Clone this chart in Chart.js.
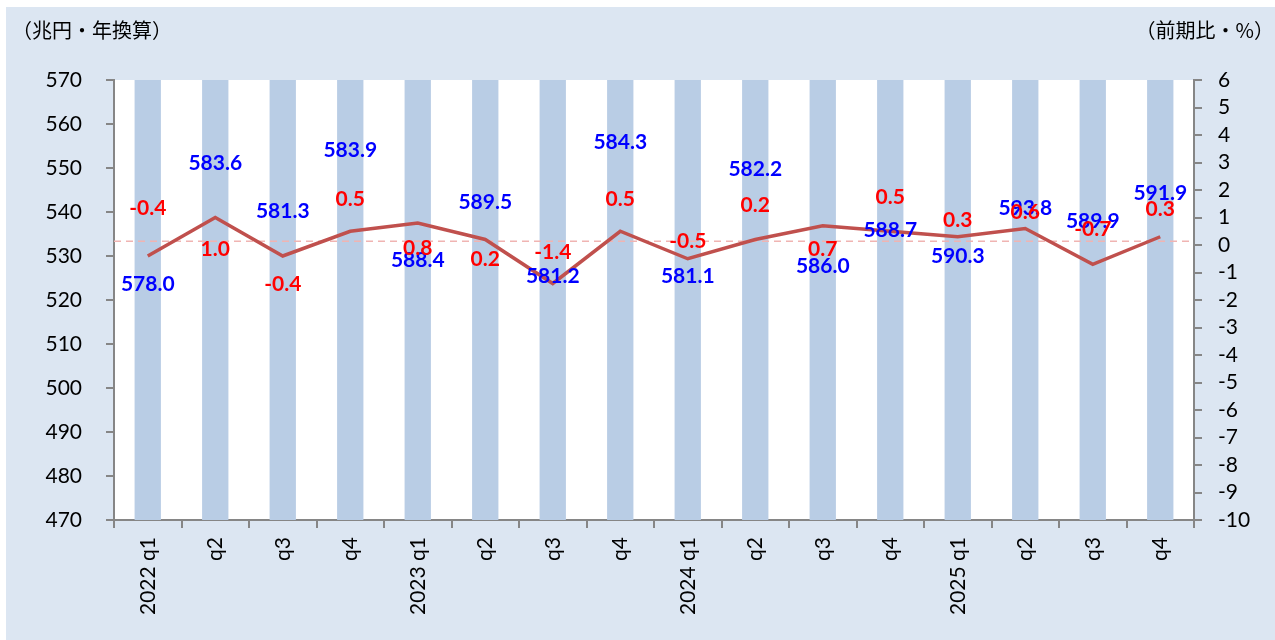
<!DOCTYPE html>
<html>
<head>
<meta charset="utf-8">
<script src="https://cdn.jsdelivr.net/npm/chart.js@4"></script>
<style>
  html, body { margin: 0; padding: 0; background: #ffffff; }
  #wrap { position: absolute; left: 6px; top: 7px; width: 1269px; height: 633px; background: #dce6f2; }
</style>
</head>
<body>
<div id="wrap"><canvas id="chart" width="1269" height="633"></canvas></div>
<script>
// quarters on the x axis
const quarters = ['2022 q1', 'q2', 'q3', 'q4', '2023 q1', 'q2', 'q3', 'q4',
                  '2024 q1', 'q2', 'q3', 'q4', '2025 q1', 'q2', 'q3', 'q4'];
// real GDP, trillion yen annualised (bars, left axis)
const gdpLevel = [578.0, 583.6, 581.3, 583.9, 588.4, 589.5, 581.2, 584.3,
                  581.1, 582.2, 586.0, 588.7, 590.3, 593.8, 589.9, 591.9];
// q/q growth, % (line, right axis)
const qoqGrowth = [-0.4, 1.0, -0.4, 0.5, 0.8, 0.2, -1.4, 0.5,
                   -0.5, 0.2, 0.7, 0.5, 0.3, 0.6, -0.7, 0.3];
// average growth over the period (dashed reference)
const avgGrowth = 0.14;

const leftTitle = '（兆円・年換算）';
const rightTitle = '（前期比・%）';

// label placement, px relative to the line point (layout only)
const levelLabelDy  = [28, -54, -45, -81, 37, -37, -7, -89, 17, -70, 40, -1, 19, -20, -43, -44];
const growthLabelDy = [-48, 32, 28, -32, 25, 20, -31, -32, -18, -34, 23, -34, -17, -16, -35, -28];

const FONT = 'Lato, "Noto Sans", sans-serif';
const AXIS_GREY = '#868686';

const whiteArea = {
    id: 'whiteArea',
    beforeDraw(chart) {
        const {ctx, chartArea: a} = chart;
        ctx.save();
        ctx.fillStyle = '#ffffff';
        ctx.fillRect(a.left, a.top, a.right - a.left, a.bottom - a.top);
        ctx.restore();
    }
};

const avgLine = {
    id: 'avgLine',
    afterDatasetDraw(chart, args) {
        if (args.meta.type !== 'bar') return;
        const {ctx, chartArea: a} = chart;
        const y = chart.scales.y1.getPixelForValue(avgGrowth);
        ctx.save();
        ctx.strokeStyle = '#f0b4b2';
        ctx.lineWidth = 1.5;
        ctx.setLineDash([7, 5]);
        ctx.beginPath();
        ctx.moveTo(a.left, y);
        ctx.lineTo(a.right, y);
        ctx.stroke();
        ctx.restore();
    }
};

const texts = {
    id: 'texts',
    afterDatasetsDraw(chart) {
        const ctx = chart.ctx;
        const x = chart.scales.x, y1 = chart.scales.y1;
        ctx.save();
        ctx.font = 'bold 21px ' + FONT;
        ctx.textAlign = 'center';
        ctx.textBaseline = 'middle';
        for (let i = 0; i < quarters.length; i++) {
            const px = x.getPixelForValue(i);
            const py = y1.getPixelForValue(qoqGrowth[i]);
            ctx.fillStyle = '#0000ff';
            ctx.fillText(gdpLevel[i].toFixed(1), px, py + levelLabelDy[i]);
            ctx.fillStyle = '#ff0000';
            ctx.fillText(qoqGrowth[i].toFixed(1), px, py + growthLabelDy[i]);
        }
        // axis unit titles
        ctx.fillStyle = '#000000';
        ctx.font = '20px "Noto Sans CJK JP"';
        ctx.textAlign = 'left';
        ctx.fillText(leftTitle, 6, 23);
        ctx.textAlign = 'right';
        ctx.fillText(rightTitle, 1268, 23);
        ctx.restore();
    }
};

const ctx = document.querySelector('#chart').getContext('2d');

const config = {
    data: {
        labels: quarters,
        datasets: [
            {
                type: 'line',
                label: '前期比',
                data: qoqGrowth,
                yAxisID: 'y1',
                borderColor: '#c0504d',
                borderWidth: 3.5,
                pointRadius: 0,
                tension: 0,
                order: 0
            },
            {
                type: 'bar',
                label: '実質GDP',
                data: gdpLevel,
                yAxisID: 'y',
                backgroundColor: '#b9cde5',
                barPercentage: 0.39,
                categoryPercentage: 1.0,
                order: 1
            }
        ]
    },
    options: {
        responsive: false,
        animation: false,
        layout: { padding: { top: 73, left: 0, right: 0, bottom: 0 } },
        plugins: {
            legend: { display: false },
            tooltip: { enabled: false },
            title: { display: false }
        },
        scales: {
            x: {
                offset: true,
                border: { display: true, color: AXIS_GREY, width: 2 },
                grid: { display: true, drawOnChartArea: false, drawTicks: true, tickLength: 8, color: AXIS_GREY, lineWidth: 2, offset: true },
                ticks: { color: '#000', font: { family: FONT, size: 21 }, minRotation: 90, maxRotation: 90, autoSkip: false, padding: 9 },
                afterFit(scale) { scale.height = 120; }
            },
            y: {
                position: 'left',
                min: 470,
                max: 570,
                border: { display: true, color: AXIS_GREY, width: 2 },
                grid: { display: true, drawOnChartArea: false, drawTicks: true, tickLength: 8, color: AXIS_GREY, lineWidth: 2 },
                ticks: { stepSize: 10, autoSkip: false, color: '#000', font: { family: FONT, size: 21 }, padding: 24 },
                afterFit(scale) { scale.width = 108; }
            },
            y1: {
                position: 'right',
                min: -10,
                max: 6,
                border: { display: true, color: AXIS_GREY, width: 2 },
                grid: { display: true, drawOnChartArea: false, drawTicks: true, tickLength: 8, color: AXIS_GREY, lineWidth: 2 },
                ticks: { stepSize: 1, autoSkip: false, color: '#000', font: { family: FONT, size: 21 }, padding: 16 },
                afterFit(scale) { scale.width = 81; }
            }
        }
    },
    plugins: [whiteArea, avgLine, texts]
};

const myChart = new Chart(ctx, config);
</script>
</body>
</html>
